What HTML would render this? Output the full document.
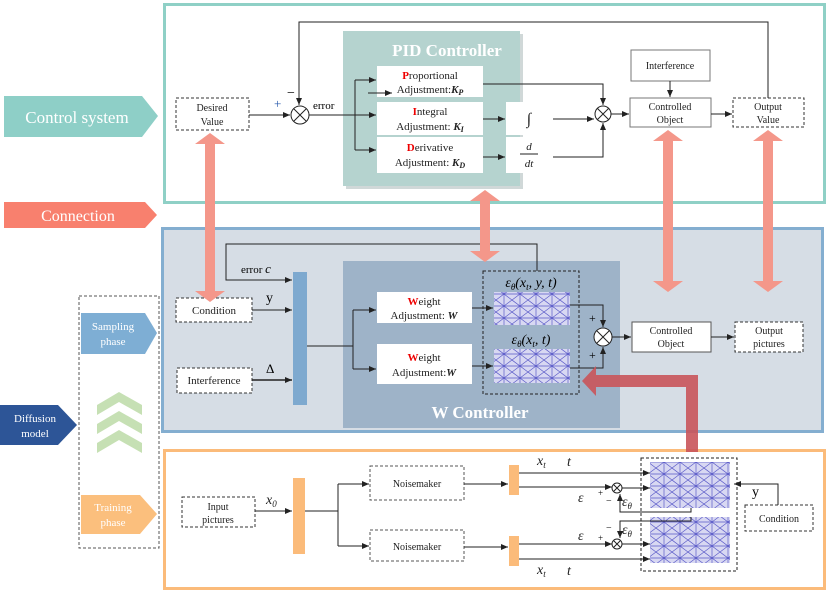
<!DOCTYPE html>
<html><head><meta charset="utf-8"><style>
html,body{margin:0;padding:0;background:#fff;}
svg{display:block;font-family:"Liberation Serif",serif;}
</style></head><body>
<svg width="830" height="597" viewBox="0 0 830 597" xmlns="http://www.w3.org/2000/svg">
<defs>
<marker id="a" markerWidth="8" markerHeight="8" refX="7" refY="4" orient="auto" markerUnits="userSpaceOnUse"><path d="M0,1 L7,4 L0,7 z" fill="#222"/></marker>
<pattern id="nn" width="16" height="12" patternUnits="userSpaceOnUse">
<path d="M0,0 L16,12 M0,12 L16,0 M8,0 L8,12 M0,6 L16,6" stroke="#5a5ac8" stroke-width="0.7"/>
</pattern>
</defs>
<polygon points="4,96 142,96 158,116 142,137 4,137" fill="#8ecfc7"/>
<text x="77" y="123" font-size="17" fill="#fff" text-anchor="middle">Control system</text>
<polygon points="4,202 145,202 157,215 145,228 4,228" fill="#f8806e"/>
<text x="78" y="221" font-size="16" fill="#fff" text-anchor="middle">Connection</text>
<rect x="79" y="296" width="80" height="252" fill="none" stroke="#555" stroke-dasharray="3,2"/>
<polygon points="81,313 145,313 157,333 145,354 81,354" fill="#7eaed4"/>
<text x="113" y="330" font-size="11" fill="#fff" text-anchor="middle">Sampling</text>
<text x="113" y="345" font-size="11" fill="#fff" text-anchor="middle">phase</text>
<polygon points="0,405 58,405 77,425 58,445 0,445" fill="#2d5597"/>
<text x="35" y="422" font-size="11" fill="#fff" text-anchor="middle">Diffusion</text>
<text x="35" y="437" font-size="11" fill="#fff" text-anchor="middle">model</text>
<g fill="#c6e0b4">
<polygon points="97,405 119,392 142,405 142,415 119,402 97,415"/>
<polygon points="97,424 119,411 142,424 142,434 119,421 97,434"/>
<polygon points="97,443 119,430 142,443 142,453 119,440 97,453"/>
</g>
<polygon points="81,495 140,495 157,514 140,534 81,534" fill="#fbbf7d"/>
<text x="113" y="511" font-size="11" fill="#fff" text-anchor="middle">Training</text>
<text x="113" y="526" font-size="11" fill="#fff" text-anchor="middle">phase</text>

<rect x="164.5" y="4.5" width="660" height="198" fill="#fff" stroke="#8fd0c6" stroke-width="3"/>
<rect x="162.5" y="228.5" width="660" height="203" fill="#d6dde5" stroke="#84aed0" stroke-width="3"/>
<rect x="164.5" y="450.5" width="660" height="138" fill="#fff" stroke="#fbbb7a" stroke-width="3"/>

<rect x="346" y="34" width="177" height="155" fill="#d0d8d8"/>
<rect x="343" y="31" width="177" height="155" fill="#b5d3cf"/>
<text x="447" y="56" font-size="17" font-weight="bold" fill="#fff" text-anchor="middle">PID Controller</text>
<g font-size="11" text-anchor="middle" fill="#222">
<rect x="377" y="66" width="106" height="31" fill="#fff"/>
<text x="430" y="79"><tspan fill="#e00" font-weight="bold">P</tspan>roportional</text>
<text x="430" y="93">Adjustment:<tspan font-weight="bold" font-style="italic">K<tspan font-size="8" dy="2">P</tspan></tspan></text>
<rect x="377" y="102" width="106" height="33" fill="#fff"/>
<text x="430" y="115"><tspan fill="#e00" font-weight="bold">I</tspan>ntegral</text>
<text x="430" y="130">Adjustment: <tspan font-weight="bold" font-style="italic">K<tspan font-size="8" dy="2">I</tspan></tspan></text>
<rect x="377" y="137" width="106" height="36" fill="#fff"/>
<text x="430" y="151"><tspan fill="#e00" font-weight="bold">D</tspan>erivative</text>
<text x="430" y="166">Adjustment: <tspan font-weight="bold" font-style="italic">K<tspan font-size="8" dy="2">D</tspan></tspan></text>
<rect x="506" y="102" width="47" height="33" fill="#fff"/>
<text x="529" y="124" font-size="16" font-style="italic">∫</text>
<rect x="506" y="137" width="47" height="36" fill="#fff"/>
<text x="529" y="150" font-style="italic">d</text>
<line x1="520" y1="154" x2="538" y2="154" stroke="#222"/>
<text x="529" y="167" font-style="italic">dt</text>
<rect x="631" y="50" width="79" height="31" fill="#fff" stroke="#777"/>
<text x="670" y="69" font-size="10">Interference</text>
<rect x="630" y="98" width="81" height="29" fill="#fff" stroke="#777"/>
<text x="670" y="110" font-size="10">Controlled</text><text x="670" y="123" font-size="10">Object</text>
<rect x="733" y="98" width="71" height="29" fill="#fff" stroke="#333" stroke-dasharray="3,2"/>
<text x="768" y="110" font-size="10">Output</text><text x="768" y="123" font-size="10">Value</text>
<rect x="176" y="98" width="73" height="32" fill="#fff" stroke="#333" stroke-dasharray="3,2"/>
<text x="212" y="111" font-size="10">Desired</text><text x="212" y="125" font-size="10">Value</text>
</g>
<g stroke="#222" fill="none" stroke-width="1">
<circle cx="300" cy="115" r="9" fill="#fff"/><path d="M294,109 L306,121 M306,109 L294,121"/>
<circle cx="603" cy="114" r="8" fill="#fff"/><path d="M597,108 L609,120 M609,108 L597,120"/>
<path d="M249,115 L290,115" marker-end="url(#a)"/>
<path d="M768,98 L768,22 L299,22 L299,105" marker-end="url(#a)"/>
<path d="M309,115 L376,115" marker-end="url(#a)"/>
<path d="M355,80 L355,150"/>
<path d="M355,80 L376,80" marker-end="url(#a)"/>
<path d="M355,150 L376,150" marker-end="url(#a)"/>
<path d="M368,93 L392,93" marker-end="url(#a)"/>
<path d="M483,84 L603,84 L603,105" marker-end="url(#a)"/>
<path d="M483,119 L505,119" marker-end="url(#a)"/>
<path d="M553,119 L594,119" marker-end="url(#a)"/>
<path d="M483,157 L505,157" marker-end="url(#a)"/>
<path d="M553,157 L603,157 L603,123" marker-end="url(#a)"/>
<path d="M611,114 L629,114" marker-end="url(#a)"/>
<path d="M670,81 L670,97" marker-end="url(#a)"/>
<path d="M711,114 L732,114" marker-end="url(#a)"/>
</g>
<text x="313" y="109" font-size="11">error</text>
<text x="274" y="108" font-size="13" fill="#2255aa">+</text>
<text x="287" y="97" font-size="14">−</text>

<rect x="343" y="261" width="277" height="167" fill="#9eb3c8"/>
<text x="480" y="418" font-size="17" font-weight="bold" fill="#fff" text-anchor="middle">W Controller</text>
<rect x="293" y="272" width="14" height="133" fill="#7ea9cf"/>
<g font-size="11" text-anchor="middle" fill="#222">
<rect x="176" y="298" width="76" height="24" fill="#fff" stroke="#333" stroke-dasharray="3,2"/>
<text x="214" y="314">Condition</text>
<rect x="177" y="368" width="75" height="25" fill="#fff" stroke="#333" stroke-dasharray="3,2"/>
<text x="214" y="384">Interference</text>
<rect x="377" y="292" width="95" height="31" fill="#fff"/>
<text x="424" y="305"><tspan fill="#e00" font-weight="bold">W</tspan>eight</text>
<text x="424" y="319">Adjustment: <tspan font-weight="bold" font-style="italic">W</tspan></text>
<rect x="377" y="344" width="95" height="40" fill="#fff"/>
<text x="424" y="361"><tspan fill="#e00" font-weight="bold">W</tspan>eight</text>
<text x="424" y="376">Adjustment:<tspan font-weight="bold" font-style="italic">W</tspan></text>
<rect x="632" y="322" width="79" height="30" fill="#fff" stroke="#555"/>
<text x="671" y="334" font-size="10">Controlled</text><text x="671" y="347" font-size="10">Object</text>
<rect x="735" y="322" width="68" height="30" fill="#fff" stroke="#333" stroke-dasharray="3,2"/>
<text x="769" y="334" font-size="10">Output</text><text x="769" y="347" font-size="10">pictures</text>
</g>
<rect x="483" y="271" width="96" height="123" fill="none" stroke="#222" stroke-dasharray="3,2"/>
<rect x="494" y="292" width="76" height="33" fill="#d8d8f2"/><rect x="494" y="292" width="76" height="33" fill="url(#nn)"/>
<rect x="494" y="349" width="76" height="34" fill="#d8d8f2"/><rect x="494" y="349" width="76" height="34" fill="url(#nn)"/>
<text x="531" y="287" font-size="14" text-anchor="middle" font-style="italic">ε<tspan font-size="9" dy="3">θ</tspan><tspan dy="-3">(x</tspan><tspan font-size="9" dy="3">t</tspan><tspan dy="-3">, y, t)</tspan></text>
<text x="531" y="344" font-size="14" text-anchor="middle" font-style="italic">ε<tspan font-size="9" dy="3">θ</tspan><tspan dy="-3">(x</tspan><tspan font-size="9" dy="3">t</tspan><tspan dy="-3">, t)</tspan></text>
<text x="241" y="273" font-size="11">error <tspan font-style="italic" font-size="13">c</tspan></text>
<text x="266" y="302" font-size="14">y</text>
<text x="266" y="373" font-size="13">Δ</text>
<g stroke="#222" fill="none">
<path d="M537,271 L537,244 L226,244 L226,280 L292,280" marker-end="url(#a)"/>
<path d="M252,310 L292,310" marker-end="url(#a)"/>
<path d="M252,380 L292,380" stroke-width="1.5" marker-end="url(#a)"/>
<path d="M307,346 L353,346 M353,310 L353,369"/>
<path d="M353,310 L376,310" marker-end="url(#a)"/>
<path d="M353,369 L376,369" marker-end="url(#a)"/>
<path d="M472,308 L493,308" marker-end="url(#a)"/>
<path d="M472,366 L493,366" marker-end="url(#a)"/>
<path d="M570,305 L603,305 L603,327" marker-end="url(#a)"/>
<path d="M570,368 L603,368 L603,347" marker-end="url(#a)"/>
<circle cx="603" cy="337" r="9" fill="#fff"/><path d="M597,331 L609,343 M609,331 L597,343"/>
<path d="M612,337 L631,337" marker-end="url(#a)"/>
<path d="M711,337 L734,337" marker-end="url(#a)"/>
</g>
<text x="589" y="322" font-size="12">+</text>
<text x="589" y="359" font-size="12">+</text>

<g font-size="11" text-anchor="middle" fill="#222">
<rect x="182" y="497" width="73" height="30" fill="#fff" stroke="#333" stroke-dasharray="3,2"/>
<text x="218" y="510" font-size="10">Input</text><text x="218" y="523" font-size="10">pictures</text>
<rect x="370" y="466" width="94" height="34" fill="#fff" stroke="#555" stroke-dasharray="3,2"/>
<text x="417" y="487" font-size="10">Noisemaker</text>
<rect x="370" y="530" width="94" height="31" fill="#fff" stroke="#555" stroke-dasharray="3,2"/>
<text x="417" y="550" font-size="10">Noisemaker</text>
<rect x="745" y="505" width="68" height="26" fill="#fff" stroke="#333" stroke-dasharray="3,2"/>
<text x="779" y="522" font-size="10">Condition</text>
</g>
<rect x="293" y="478" width="12" height="76" fill="#fbbb7a"/>
<rect x="509" y="465" width="10" height="30" fill="#fbbb7a"/>
<rect x="509" y="536" width="10" height="30" fill="#fbbb7a"/>
<rect x="641" y="458" width="96" height="113" fill="none" stroke="#222" stroke-dasharray="3,2"/>
<rect x="650" y="462" width="80" height="46" fill="#d8d8f2"/><rect x="650" y="462" width="80" height="46" fill="url(#nn)"/>
<rect x="650" y="517" width="80" height="46" fill="#d8d8f2"/><rect x="650" y="517" width="80" height="46" fill="url(#nn)"/>
<g stroke="#222" fill="none">
<path d="M255,511 L292,511" marker-end="url(#a)"/>
<path d="M305,511 L338,511 M338,484 L338,546"/>
<path d="M338,484 L369,484" marker-end="url(#a)"/>
<path d="M338,546 L369,546" marker-end="url(#a)"/>
<path d="M464,484 L508,484" marker-end="url(#a)"/>
<path d="M464,547 L508,547" marker-end="url(#a)"/>
<path d="M519,473 L650,473" marker-end="url(#a)"/>
<path d="M519,487 L612,487" marker-end="url(#a)"/>
<circle cx="617" cy="488" r="5" fill="#fff"/><path d="M614,485 L620,491 M620,485 L614,491"/>
<path d="M622,488 L650,488" marker-end="url(#a)"/>
<path d="M691,508 L691,512 L620,512 L620,494" marker-end="url(#a)"/>
<path d="M519,544 L612,544" marker-end="url(#a)"/>
<circle cx="617" cy="544" r="5" fill="#fff"/><path d="M614,541 L620,547 M620,541 L614,547"/>
<path d="M622,544 L650,544" marker-end="url(#a)"/>
<path d="M691,517 L691,521 L620,521 L620,538" marker-end="url(#a)"/>
<path d="M519,559 L650,559" marker-end="url(#a)"/>
<path d="M778,505 L778,484 L734,484" marker-end="url(#a)"/>
</g>
<g font-style="italic" font-size="14" fill="#222">
<text x="266" y="504">x<tspan font-size="9" dy="3">0</tspan></text>
<text x="537" y="465">x<tspan font-size="9" dy="3">t</tspan></text><text x="567" y="466">t</text>
<text x="537" y="574">x<tspan font-size="9" dy="3">t</tspan></text><text x="567" y="575">t</text>
<text x="578" y="502">ε</text><text x="578" y="540">ε</text>
<text x="622" y="506">ε<tspan font-size="9" dy="3">θ</tspan></text>
<text x="622" y="534">ε<tspan font-size="9" dy="3">θ</tspan></text>
</g>
<text x="752" y="496" font-size="14">y</text>
<text x="598" y="496" font-size="9">+</text><text x="606" y="504" font-size="10">−</text>
<text x="598" y="541" font-size="9">+</text><text x="606" y="531" font-size="10">−</text>

<g fill="#f4978a">
<polygon points="205,144 195,144 210,133 225,144 215,144 215,291 225,291 210,302 195,291 205,291"/>
<polygon points="480,201 470,201 485,190 500,201 490,201 490,251 500,251 485,262 470,251 480,251"/>
<polygon points="663,141 653,141 668,130 683,141 673,141 673,281 683,281 668,292 653,281 663,281"/>
<polygon points="763,141 753,141 768,130 783,141 773,141 773,281 783,281 768,292 753,281 763,281"/>
</g>
<polygon points="698,452 686,452 686,387 596,387 596,396 582,381 596,366 596,375 698,375" fill="#c9545a" opacity="0.9"/>
</svg>
</body></html>
